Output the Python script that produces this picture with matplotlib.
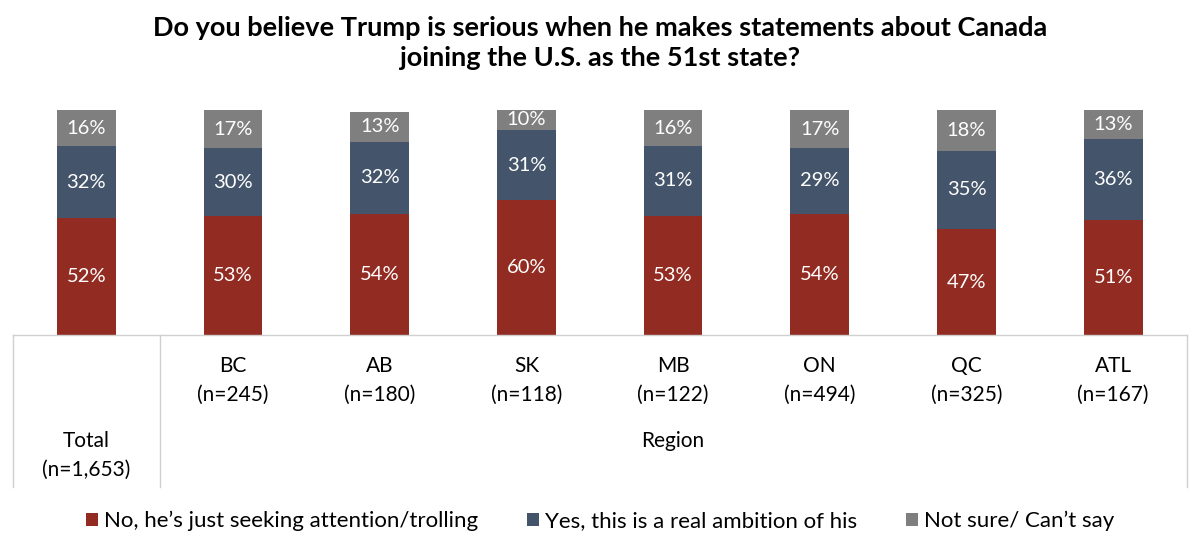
import matplotlib.pyplot as plt
import numpy as np

plt.rcParams['font.family'] = ['Lato', 'DejaVu Sans']

# Survey data (percent)
groups = ["Total", "BC", "AB", "SK", "MB", "ON", "QC", "ATL"]
sample_sizes = ["1,653", "245", "180", "118", "122", "494", "325", "167"]
no_trolling = [52, 53, 54, 60, 53, 54, 47, 51]
yes_ambition = [32, 30, 32, 31, 31, 29, 35, 36]
not_sure = [16, 17, 13, 10, 16, 17, 18, 13]

series_names = ["No, he\u2019s just seeking attention/trolling",
                "Yes, this is a real ambition of his",
                "Not sure/ Can\u2019t say"]
colors = ["#922B21", "#44546A", "#7F7F7F"]

fig = plt.figure(figsize=(12, 5.52), dpi=100)
ax = fig.add_axes([0.0108, 0.393, 0.978, 0.4076])

x = np.arange(len(groups))
width = 0.4
bottom = np.zeros(len(groups))
for vals, name, col in zip([no_trolling, yes_ambition, not_sure], series_names, colors):
    vals = np.array(vals)
    ax.bar(x, vals, width, bottom=bottom, color=col, label=name)
    for xi, b, v in zip(x, bottom, vals):
        ax.text(xi, b + v / 2, f"{v}%", ha='center', va='center',
                color='white', fontsize=14.5)
    bottom += vals

ax.set_xlim(-0.5, len(groups) - 0.5)
ax.set_ylim(0, 100)
ax.axis('off')

# category table below the bars
tr = ax.get_xaxis_transform()
line_col = "#D0D0D0"
ax.plot([-0.5, len(groups) - 0.5], [0, 0], color=line_col, lw=1, transform=tr, clip_on=False)
for xv in [-0.5, 0.5, len(groups) - 0.5]:
    ax.plot([xv, xv], [0, -0.676], color=line_col, lw=1, transform=tr, clip_on=False)

fs = 15
for xi, g, n in zip(x[1:], groups[1:], sample_sizes[1:]):
    ax.text(xi, -0.138, g, ha='center', va='center', fontsize=fs, transform=tr)
    ax.text(xi, -0.267, f"(n={n})", ha='center', va='center', fontsize=fs, transform=tr)
ax.text(0, -0.471, "Total", ha='center', va='center', fontsize=fs, transform=tr)
ax.text(0, -0.600, f"(n={sample_sizes[0]})", ha='center', va='center', fontsize=fs, transform=tr)
ax.text(4, -0.471, "Region", ha='center', va='center', fontsize=fs, transform=tr)

fig.text(0.5, 0.923, "Do you believe Trump is serious when he makes statements about Canada\n"
         "joining the U.S. as the 51st state?", ha='center', va='center',
         fontsize=19.5, fontweight='bold', linespacing=1.3)

fig.legend(loc='center', bbox_to_anchor=(0.5, 0.056), ncol=3, frameon=False,
           fontsize=16, handlelength=0.55, handleheight=0.55, handletextpad=0.25,
           columnspacing=2.2)

fig.savefig("out.png", dpi=100)
